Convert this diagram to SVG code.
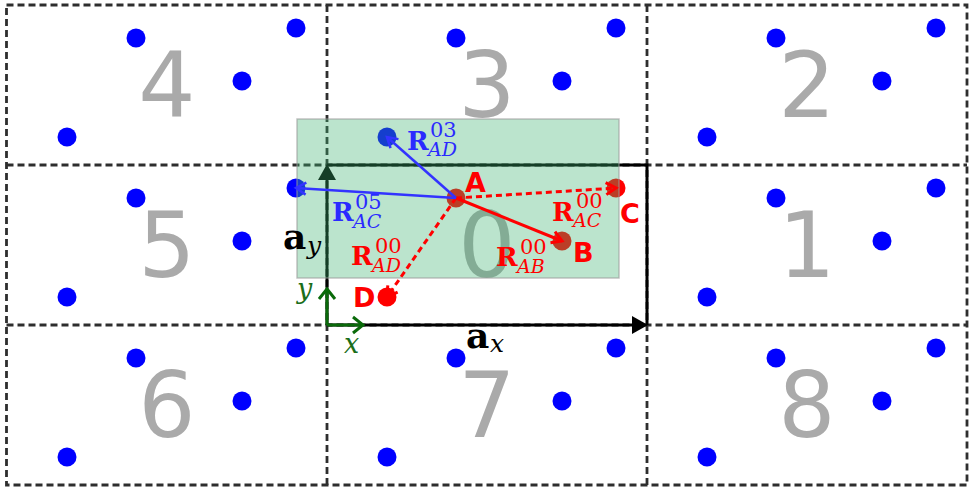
<svg xmlns="http://www.w3.org/2000/svg" width="974" height="490" viewBox="0 0 974 490">
<defs>
<style>
.grid{stroke:#2e2e2e;stroke-width:2.8;stroke-dasharray:7,4;fill:none}
.dig{font-family:"DejaVu Sans",sans-serif;font-size:90px;fill:#aaaaaa;text-anchor:middle}
.bd{fill:#0000ff}
.rd{fill:#ff0000}
.cell{stroke:#000;stroke-width:3;fill:none}
.lab{font-family:"DejaVu Sans",sans-serif;font-weight:bold;font-size:27px;fill:#ff0000}
.R{font-family:"DejaVu Serif",serif;font-weight:bold;font-size:26px}
.sup{font-family:"DejaVu Serif",serif;font-size:21px}
.sub{font-family:"DejaVu Serif",serif;font-style:italic;font-size:19px}
.red{fill:#ff0000}
.blue{fill:#2a2aff}
.vr{stroke:#ff0000;stroke-width:3;fill:none}
.vb{stroke:#3333ff;stroke-width:2.5;fill:none}
.dash{stroke-dasharray:6,4}
.ax{stroke:#0a6a0a;stroke-width:3;fill:none}
.axl{font-family:"DejaVu Serif",serif;font-style:italic;font-size:27px;fill:#1a6e1a}
.ba{font-family:"DejaVu Serif",serif;font-weight:bold;font-size:36px;fill:#000}
.bs{font-family:"DejaVu Serif",serif;font-style:italic;font-size:25px;fill:#000}
</style>
<marker id="hr" markerUnits="userSpaceOnUse" markerWidth="24" markerHeight="24" viewBox="-12 -12 24 24" refX="0" refY="0" orient="auto"><path d="M-10,-6 L0,0 L-10,6" fill="none" stroke="#ff0000" stroke-width="3"/></marker>
<marker id="hb" markerUnits="userSpaceOnUse" markerWidth="24" markerHeight="24" viewBox="-12 -12 24 24" refX="0" refY="0" orient="auto"><path d="M-10,-6 L0,0 L-10,6" fill="none" stroke="#3333ff" stroke-width="2.5"/></marker>
<marker id="hg" markerUnits="userSpaceOnUse" markerWidth="24" markerHeight="24" viewBox="-12 -12 24 24" refX="0" refY="0" orient="auto"><path d="M-10,-8 L0,0 L-10,8" fill="none" stroke="#0a6a0a" stroke-width="3"/></marker>
</defs>
<rect x="0" y="0" width="974" height="490" fill="#fff"/>
<g id="grid">
<rect class="grid" x="6.5" y="5" width="960.5" height="480"/>
<line class="grid" x1="327" y1="5" x2="327" y2="485"/>
<line class="grid" x1="647" y1="5" x2="647" y2="485"/>
<line class="grid" x1="6.5" y1="165" x2="967" y2="165"/>
<line class="grid" x1="6.5" y1="325" x2="967" y2="325"/>
</g>
<g id="cell4"><text class="dig" x="167" y="117">4</text>
<circle class="bd" cx="136" cy="38" r="9.5"/><circle class="bd" cx="242" cy="81" r="9.5"/><circle class="bd" cx="296" cy="28" r="9.5"/><circle class="bd" cx="67" cy="137" r="9.5"/></g>
<g id="cell3"><text class="dig" x="487" y="117">3</text>
<circle class="bd" cx="456" cy="38" r="9.5"/><circle class="bd" cx="562" cy="81" r="9.5"/><circle class="bd" cx="616" cy="28" r="9.5"/><circle class="bd" cx="387" cy="137" r="9.5"/></g>
<g id="cell2"><text class="dig" x="807" y="117">2</text>
<circle class="bd" cx="776" cy="38" r="9.5"/><circle class="bd" cx="882" cy="81" r="9.5"/><circle class="bd" cx="936" cy="28" r="9.5"/><circle class="bd" cx="707" cy="137" r="9.5"/></g>
<g id="cell5"><text class="dig" x="167" y="277">5</text>
<circle class="bd" cx="136" cy="198" r="9.5"/><circle class="bd" cx="242" cy="241" r="9.5"/><circle class="bd" cx="296" cy="188" r="9.5"/><circle class="bd" cx="67" cy="297" r="9.5"/></g>
<g id="cell0"><text class="dig" x="487" y="277">0</text>
<circle class="rd" cx="456" cy="198" r="9.5"/><circle class="rd" cx="562" cy="241" r="9.5"/><circle class="rd" cx="616" cy="188" r="9.5"/><circle class="rd" cx="387" cy="297" r="9.5"/></g>
<g id="cell1"><text class="dig" x="807" y="277">1</text>
<circle class="bd" cx="776" cy="198" r="9.5"/><circle class="bd" cx="882" cy="241" r="9.5"/><circle class="bd" cx="936" cy="188" r="9.5"/><circle class="bd" cx="707" cy="297" r="9.5"/></g>
<g id="cell6"><text class="dig" x="167" y="437">6</text>
<circle class="bd" cx="136" cy="358" r="9.5"/><circle class="bd" cx="242" cy="401" r="9.5"/><circle class="bd" cx="296" cy="348" r="9.5"/><circle class="bd" cx="67" cy="457" r="9.5"/></g>
<g id="cell7"><text class="dig" x="487" y="437">7</text>
<circle class="bd" cx="456" cy="358" r="9.5"/><circle class="bd" cx="562" cy="401" r="9.5"/><circle class="bd" cx="616" cy="348" r="9.5"/><circle class="bd" cx="387" cy="457" r="9.5"/></g>
<g id="cell8"><text class="dig" x="807" y="437">8</text>
<circle class="bd" cx="776" cy="358" r="9.5"/><circle class="bd" cx="882" cy="401" r="9.5"/><circle class="bd" cx="936" cy="348" r="9.5"/><circle class="bd" cx="707" cy="457" r="9.5"/></g>
<g id="unitcell">
<polyline class="cell" points="327,165 647,165 647,325"/>
<line class="cell" x1="327" y1="325" x2="634" y2="325"/>
<line class="cell" x1="327" y1="325" x2="327" y2="178"/>
<polygon points="648,325 632,316 632,334" fill="#000"/>
<polygon points="327,164 318,180 336,180" fill="#000"/>
</g>
<rect id="region" x="297" y="119" width="322" height="159" fill="#3cb371" fill-opacity="0.35" stroke="#999" stroke-opacity="0.6" stroke-width="1.5"/>
<g id="connectors">
<line class="vr" x1="456" y1="198" x2="562" y2="241" marker-end="url(#hr)"/>
<line class="vr dash" x1="456" y1="198" x2="616" y2="188" marker-end="url(#hr)"/>
<line class="vr dash" x1="456" y1="198" x2="387" y2="297" marker-end="url(#hr)"/>
<line class="vb" x1="456" y1="198" x2="387" y2="137" marker-end="url(#hb)"/>
<line class="vb" x1="456" y1="198" x2="296" y2="188" marker-end="url(#hb)"/>
<line class="ax" x1="327" y1="325" x2="327" y2="289" marker-end="url(#hg)"/>
<line class="ax" x1="327" y1="325" x2="363" y2="325" marker-end="url(#hg)"/>
</g>
<g id="labels">
<text class="lab" x="465" y="192">A</text>
<text class="lab" x="573" y="262">B</text>
<text class="lab" x="620" y="223">C</text>
<text class="lab" x="353" y="307">D</text>
<text class="R blue" x="407" y="150">R</text><text class="sup blue" x="430" y="137">03</text><text class="sub blue" x="428" y="156">AD</text>
<text class="R blue" x="332" y="221">R</text><text class="sup blue" x="355" y="209">05</text><text class="sub blue" x="353" y="228">AC</text>
<text class="R red" x="552" y="221">R</text><text class="sup red" x="576" y="208">00</text><text class="sub red" x="573" y="227">AC</text>
<text class="R red" x="496" y="266">R</text><text class="sup red" x="520" y="254">00</text><text class="sub red" x="517" y="273">AB</text>
<text class="R red" x="351" y="265">R</text><text class="sup red" x="375" y="253">00</text><text class="sub red" x="372" y="272">AD</text>
<text class="ba" x="283" y="249">a</text><text class="bs" x="307" y="254">y</text>
<text class="ba" x="466" y="348">a</text><text class="bs" x="490" y="352">x</text>
<text class="axl" x="297" y="298">y</text>
<text class="axl" x="344" y="353">x</text>
</g>
</svg>
